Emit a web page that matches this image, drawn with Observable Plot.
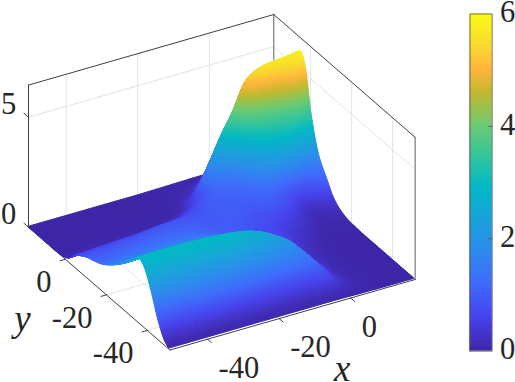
<!DOCTYPE html>
<html>
<head>
<meta charset="utf-8">
<script src="https://cdn.jsdelivr.net/npm/d3@7"></script>
<script src="https://cdn.jsdelivr.net/npm/@observablehq/plot@0.6"></script>
<style>html,body{margin:0;padding:0;background:#fff}svg{display:block}</style>
</head>
<body>
<div id="chart"></div>
<script>
const xValues = [-50.5,-44,-38,-32,-26,-20,-16,-12,-9,-6,-3,0,3,6,9,12,15,18];
const yValues = [18,15,12,10,8,6,4,2,0,-2,-4,-6,-8,-11,-14,-18,-22,-26,-30,-33,-36,-39,-42,-45,-48,-50.6];
// surface height: one list per x value, entries follow yValues
const zByX = [
[0,0,0,0,0,0,0,.02,.08,.2,.45,.65,.78,.95,1.05,1.22,1.5,1.85,2.25,2.62,2.95,2.7,1.95,1,.3,.03],
[0,0,0,0,0,0,0,.03,.1,.25,.5,.68,.8,.97,1.08,1.27,1.55,1.88,2.28,2.63,2.95,2.7,1.95,1,.3,.03],
[0,0,0,0,0,0,.01,.04,.12,.3,.55,.72,.85,1,1.12,1.32,1.58,1.92,2.3,2.63,2.95,2.7,1.95,1,.3,.03],
[0,0,0,0,0,0,.01,.05,.15,.35,.6,.78,.9,1.03,1.15,1.35,1.6,1.93,2.28,2.6,2.92,2.65,1.9,.98,.3,.03],
[0,0,0,0,0,.01,.02,.07,.22,.45,.7,.85,.95,1.05,1.15,1.32,1.55,1.85,2.22,2.55,2.85,2.6,1.85,.95,.28,.03],
[0,0,0,0,.01,.02,.05,.15,.3,.55,.75,.88,.93,1,1.05,1.15,1.4,1.75,2.1,2.42,2.7,2.45,1.75,.88,.26,.03],
[.01,.01,.01,.02,.03,.06,.14,.32,.55,.72,.83,.88,.92,.94,.95,1,1.15,1.4,1.75,2.1,2.5,2.3,1.65,.82,.24,.03],
[.02,.03,.06,.12,.25,.45,.62,.75,.88,.95,.97,.98,.98,.97,.95,.93,.95,1.1,1.4,1.7,2.15,2.05,1.55,.8,.23,.03],
[.03,.06,.15,.3,.6,1.05,1.1,1.1,1.08,1.05,1.03,1,.98,.96,.92,.86,.8,.85,1,1.3,1.8,1.85,1.45,.75,.22,.03],
[.04,.1,.4,.85,1.5,1.95,1.85,1.55,1.25,1.12,1.07,1.02,.98,.92,.85,.75,.7,.68,.75,.95,1.2,1.38,1.3,.8,.25,.03],
[.05,.2,.7,1.4,2.4,3,2.8,1.9,1.4,1.22,1.12,1.05,.98,.88,.78,.68,.62,.6,.6,.62,.68,.78,.85,.7,.25,.03],
[.05,.25,1,1.9,3.1,3.9,3.8,2.9,2.2,1.6,1.35,1.2,1.08,.92,.72,.55,.42,.36,.32,.3,.32,.35,.35,.32,.18,.02],
[.05,.3,1.2,2.4,3.9,5,4.85,3.85,3.1,2.6,1.8,1.25,1.08,.85,.62,.42,.28,.2,.15,.13,.12,.12,.12,.12,.08,.01],
[.05,.3,1.3,2.7,4.4,5.4,5.2,4.2,3.4,2.85,2.1,1.3,.98,.72,.48,.28,.15,.08,.05,.05,.05,.05,.05,.05,.03,.01],
[.05,.3,1.4,2.8,4.6,5.55,5.4,4.55,3.7,3.05,2.2,1.15,.75,.42,.25,.12,.06,.03,.02,.02,.02,.02,.02,.02,.01,0],
[.05,.3,1.4,2.9,4.7,5.6,5.45,4.9,3.9,3.1,2,1,.62,.25,.12,.04,.01,0,0,0,0,0,0,0,0,0],
[.05,.3,1.4,3,4.8,5.65,5.55,5.2,4,3,1.75,1.15,.78,.34,.14,.05,.02,0,0,0,0,0,0,0,0,0],
[.05,.3,1.5,3,4.9,5.72,5.78,5.15,3.7,2.66,1.9,1.45,1.1,.55,.25,.07,.02,0,0,0,0,0,0,0,0,0]
];
const xTicks = [-40,-20,0];
const yTicks = [0,-20,-40];
const zTicks = [0,5];
const colorTicks = [0,2,4,6];
const xLimits = [-50.5,18];
const yLimits = [18,-51];
const zLimits = [0,6.46];
const parulaStops = [0,.6,1.2,1.8,2.4,2.9,3.4,4,4.6,5,5.4,6];
const parulaColors = ["#3e26a8","#4743ee","#3f6cfb","#2c8ced","#18a5d8","#02b8c6","#2ec5a0","#6ccb72","#c4b92e","#ffb53c","#f9d830","#f9fb15"];

// 3D view: data (x, y, z) to picture coordinates
const px = (x, y) => 28 + 3.58 * (x - xLimits[0]) + 2.05 * (yLimits[0] - y);
const py = (x, y, z) => 226.7 - 1.03 * (x - xLimits[0]) + 1.78 * (yLimits[0] - y) - 22 * z;
const seg = (a, b) => [{X: px(a[0], a[1]), Y: py(...a)}, {X: px(b[0], b[1]), Y: py(...b)}];
const [x0, x1] = xLimits, [y1, y0] = yLimits, zTop = zLimits[1];
const lines = (list) => list.flatMap((l, i) => seg(l[0], l[1]).map(d => ({...d, k: i})));

const gridSegs = lines([
  ...xTicks.map(x => [[x, y0, 0], [x, y1, 0]]),
  ...xTicks.map(x => [[x, y1, 0], [x, y1, zTop]]),
  ...yTicks.map(y => [[x0, y, 0], [x1, y, 0]]),
  ...yTicks.map(y => [[x1, y, 0], [x1, y, zTop]]),
  ...zTicks.filter(z => z > 0).flatMap(z => [[[x0, y1, z], [x1, y1, z]], [[x1, y1, z], [x1, y0, z]]]),
  [[x0, y1, 0], [x1, y1, 0]],
  [[x1, y1, 0], [x1, y0, 0]]
]);
const darkBox = lines([
  [[x0, y1, 0], [x0, y1, zTop]],
  [[x0, y1, zTop], [x1, y1, zTop]],
  [[x1, y1, zTop], [x1, y0, zTop]]
]);
const grayBox = lines([
  [[x1, y1, 0], [x1, y1, zTop]],
  [[x1, y0, 0], [x1, y0, zTop]]
]);
const floorAxes = lines([
  [[x0, y1, 0], [x0, y0, 0]],
  [[x0, y0, 0], [x1, y0, 0]],
  ...xTicks.map(x => [[x, y0, 0], [x, y0 - 1.9, 0]]),
  ...yTicks.map(y => [[x0, y, 0], [x0 - 1.5, y, 0]]),
  ...zTicks.map(z => [[x0, y1, z], [x0, y1 + 2.2, z]])
]);

// smooth shading of the read grid, as a surface drawn with interpolated shading
const hermite = (fm, f0, f1, fp, km, k0, k1, kp, s) => {
  const h = k1 - k0;
  const m0 = km === k1 ? f1 - f0 : (f1 - fm) / (k1 - km) * h;
  const m1 = k0 === kp ? f1 - f0 : (fp - f0) / (kp - k0) * h;
  const s2 = s * s, s3 = s2 * s;
  return (2 * s3 - 3 * s2 + 1) * f0 + (s3 - 2 * s2 + s) * m0 + (-2 * s3 + 3 * s2) * f1 + (s3 - s2) * m1;
};
const nx = xValues.length, ny = yValues.length;
const cl = (i, n) => Math.max(0, Math.min(n - 1, i));
const alongY = (c, j, t) => hermite(
  zByX[c][cl(j - 1, ny)], zByX[c][j], zByX[c][j + 1], zByX[c][cl(j + 2, ny)],
  yValues[cl(j - 1, ny)], yValues[j], yValues[j + 1], yValues[cl(j + 2, ny)], t);
const at = (i, j, s, t) => {
  const x = xValues[i] + (xValues[i + 1] - xValues[i]) * s;
  const y = yValues[j] + (yValues[j + 1] - yValues[j]) * t;
  const z = hermite(
    alongY(cl(i - 1, nx), j, t), alongY(i, j, t), alongY(i + 1, j, t), alongY(cl(i + 2, nx), j, t),
    xValues[cl(i - 1, nx)], xValues[i], xValues[i + 1], xValues[cl(i + 2, nx)], s);
  return [x, y, Math.max(0, z)];
};
const stepsX = 4, stepsY = 10;
const facets = [];
let facetId = 0;
for (let j = 0; j < ny - 1; ++j) {
  for (let t = 0; t < stepsY; ++t) {
    for (let i = nx - 2; i >= 0; --i) {
      for (let s = stepsX - 1; s >= 0; --s) {
        const a = at(i, j, (s + 1) / stepsX, t / stepsY), b = at(i, j, s / stepsX, t / stepsY);
        const c = at(i, j, (s + 1) / stepsX, (t + 1) / stepsY), d = at(i, j, s / stepsX, (t + 1) / stepsY);
        const h = (a[2] + b[2] + c[2] + d[2]) / 4;
        const k = facetId++;
        facets.push({k, h, ax: px(a[0], a[1]), ay: py(...a), bx: px(b[0], b[1]), by: py(...b)});
        facets.push({k, h, ax: px(c[0], c[1]), ay: py(...c), bx: px(d[0], d[1]), by: py(...d)});
      }
    }
  }
}

// colour bar
const barY = (v) => 350.7 - 56.2 * v;
const barBands = d3.range(0, 6, 0.02).map(v => ({v, y1: barY(v), y2: Math.max(barY(6), barY(v + 0.02) - 1)}));
const barEdge = [{X: 469.5, Y: barY(0)}, {X: 491.7, Y: barY(0)}, {X: 491.7, Y: barY(6)}, {X: 469.5, Y: barY(6)}, {X: 469.5, Y: barY(0)}];
const barTicks = colorTicks.filter(v => v > 0 && v < 6).flatMap((v, k) => [{X: 491.7, Y: barY(v), k}, {X: 488, Y: barY(v), k}]);

const font = "Liberation Serif";
const tickText = {fontFamily: font, fontSize: 30.5, fill: "#262626", stroke: "none"};
const labelText = {fontFamily: font, fontStyle: "italic", fontSize: 37, fill: "#262626", stroke: "none", textAnchor: "middle"};
const chart = Plot.plot({
  width: 515, height: 382,
  margin: 0,
  x: {domain: [0, 515], range: [0, 515], axis: null},
  y: {domain: [0, 382], range: [0, 382], axis: null},
  color: {type: "linear", domain: parulaStops, range: parulaColors, clamp: true},
  style: {background: "#fff"},
  marks: [
    Plot.line(gridSegs, {x: "X", y: "Y", z: "k", stroke: "#e3e3e3", strokeWidth: 1}),
    Plot.line(grayBox, {x: "X", y: "Y", z: "k", stroke: "#8c8c8c", strokeWidth: 1.4}),
    Plot.line(darkBox, {x: "X", y: "Y", z: "k", stroke: "#404040", strokeWidth: 1}),
    Plot.line(floorAxes, {x: "X", y: "Y", z: "k", stroke: "#404040", strokeWidth: 1}),
    Plot.area(facets, {x1: "ax", y1: "ay", x2: "bx", y2: "by", z: "k", fill: "h", stroke: "h", strokeWidth: 1}),
    Plot.text(zTicks, {x: () => px(x0, y1), y: d => py(x0, y1, d), text: d => String(d), dx: -20, dy: -12.5, textAnchor: "middle", ...tickText}),
    Plot.text(yTicks, {x: d => px(x0, d), y: d => py(x0, d, 0), text: d => String(d), dx: -14, dy: 23, textAnchor: "end", ...tickText}),
    Plot.text(xTicks, {x: d => px(d, y0), y: d => py(d, y0, 0), text: d => String(d), dx: 11, dy: 29, textAnchor: "start", ...tickText}),
    Plot.text(["x"], {x: () => px(-1, y0), y: () => py(-1, y0, 0), text: d => d, dx: -5, dy: 70, ...labelText}),
    Plot.text(["y"], {x: () => px(x0, -20), y: () => py(x0, -20, 0), text: d => d, dx: -84, dy: 24, ...labelText}),
    Plot.rect(barBands, {x1: () => 469.5, x2: () => 491.7, y1: "y1", y2: "y2", fill: "v"}),
    Plot.line(barEdge, {x: "X", y: "Y", stroke: "#555", strokeWidth: 0.8}),
    Plot.line(barTicks, {x: "X", y: "Y", z: "k", stroke: "#555", strokeWidth: 0.8}),
    Plot.text(colorTicks, {x: () => 499.5, y: barY, text: d => String(d), dy: -1.5, textAnchor: "start", ...tickText})
  ]
});
document.getElementById("chart").append(chart);
</script>
</body>
</html>
